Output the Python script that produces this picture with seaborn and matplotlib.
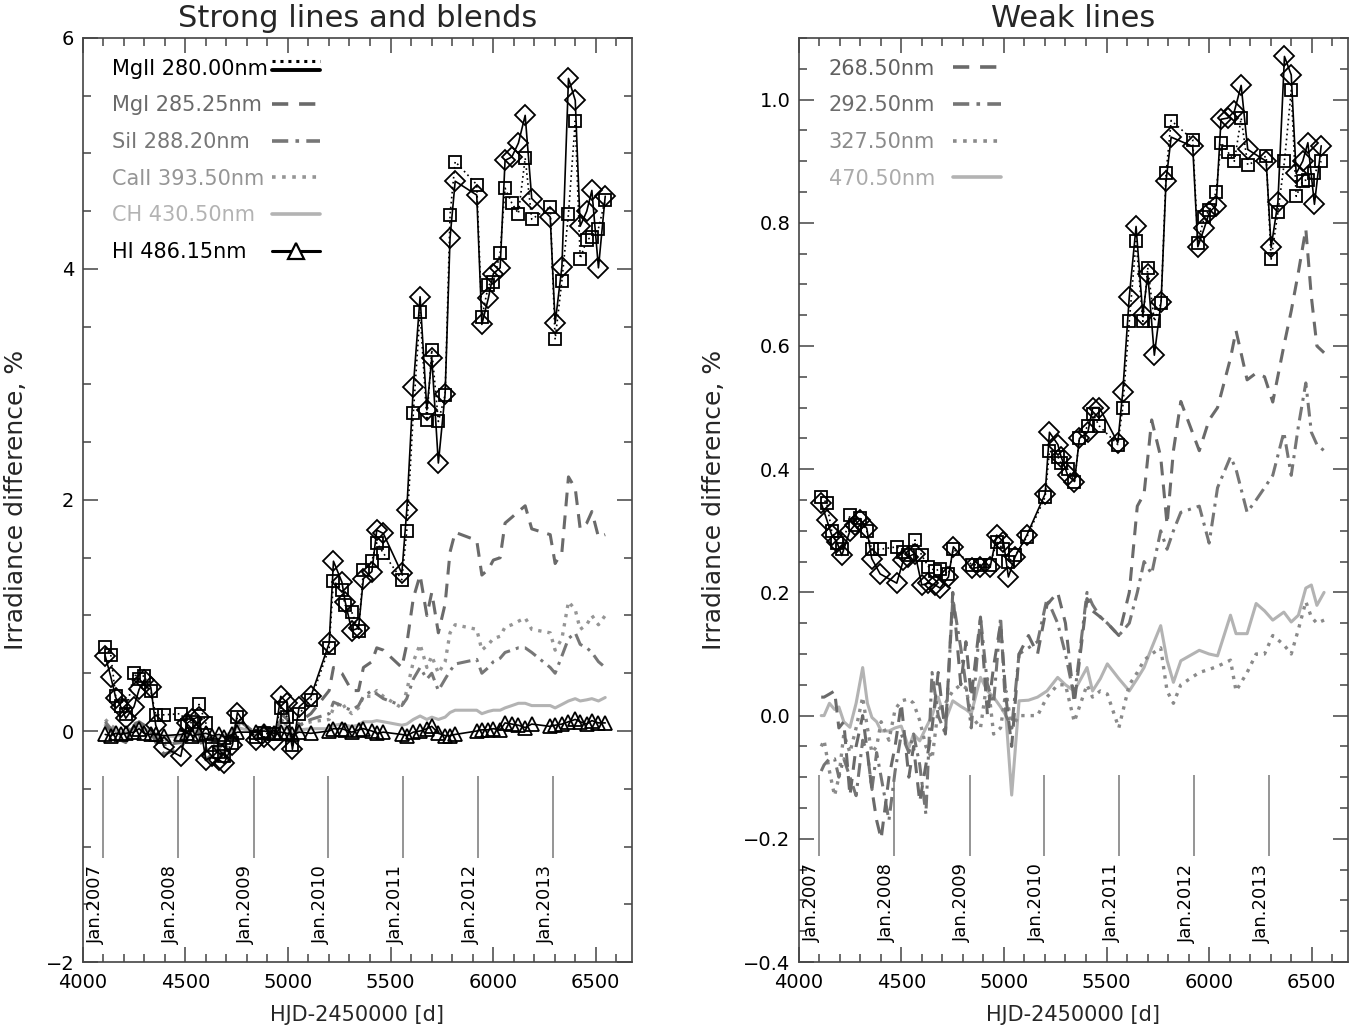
import numpy as np
import pandas as pd
import matplotlib
matplotlib.use("Agg")
import matplotlib.pyplot as plt
import seaborn as sns
from matplotlib.lines import Line2D
from matplotlib.legend_handler import HandlerBase
from matplotlib.ticker import MultipleLocator

# ---------------- data ----------------
t_mg = [4110, 4137, 4161, 4186, 4210, 4250, 4275, 4299, 4332, 4356,
        4397, 4478, 4510, 4535, 4567, 4600, 4632, 4665, 4689, 4730,
        4754, 4844, 4884, 4933, 4965, 4998, 5022, 5055, 5112, 5201,
        5222, 5263, 5279, 5311, 5344, 5368, 5409, 5433, 5465, 5555,
        5579, 5611, 5644, 5677, 5701, 5733, 5766, 5790, 5815, 5920,
        5945, 5977, 6001, 6034, 6058, 6091, 6123, 6156, 6188, 6278,
        6302, 6335, 6367, 6400, 6424, 6456, 6481, 6513, 6546]

mg2_diam_L = [0.65, 0.47, 0.29, 0.21, 0.11, 0.21, 0.36, 0.44, 0.38, 0.05,
              -0.14, -0.22, 0.07, 0.10, 0.125, -0.25, -0.22, -0.25, -0.28, -0.12,
              0.16, -0.08, -0.05, -0.08, 0.30, 0.24, -0.16, 0.21, 0.30, 0.76,
              1.47, 1.29, 1.12, 0.87, 0.89, 1.32, 1.38, 1.74, 1.71, 1.365,
              1.91, 2.98, 3.76, 2.78, 3.23, 2.32, 2.92, 4.27, 4.76, 4.64,
              3.52, 3.75, 3.96, 4.01, 4.94, 4.97, 5.09, 5.33, 4.61, 4.45,
              3.53, 4.02, 5.65, 5.46, 4.37, 4.50, 4.68, 4.01, 4.63]
mg2_sq_L = [0.73, 0.66, 0.30, 0.22, 0.15, 0.50, 0.45, 0.48, 0.35, 0.14,
            0.14, 0.15, 0.05, 0.08, 0.23, 0.07, -0.12, -0.18, -0.22, -0.10,
            0.12, -0.05, -0.02, -0.03, 0.20, 0.12, -0.12, 0.15, 0.27, 0.72,
            1.30, 1.22, 1.09, 1.03, 0.87, 1.39, 1.47, 1.63, 1.54, 1.31,
            1.73, 2.75, 3.63, 2.69, 3.30, 2.68, 2.91, 4.47, 4.93, 4.73,
            3.58, 3.86, 3.89, 4.14, 4.70, 4.57, 4.48, 4.96, 4.43, 4.54,
            3.39, 3.90, 4.48, 5.28, 4.09, 4.25, 4.28, 4.35, 4.60]
mg1_L = [0.05, 0.0, -0.05, -0.08, -0.1, 0.05, 0.08, 0.05, 0.0, -0.1,
         -0.2, -0.15, -0.05, 0.0, -0.02, -0.25, -0.2, -0.22, -0.18, -0.05,
         0.1, -0.02, 0.05, -0.05, 0.15, 0.1, -0.12, 0.08, 0.15, 0.35,
         0.55, 0.50, 0.45, 0.35, 0.35, 0.55, 0.60, 0.72, 0.70, 0.55,
         0.75, 1.15, 1.35, 1.0, 1.2, 0.85, 1.1, 1.55, 1.72, 1.65,
         1.35, 1.40, 1.48, 1.50, 1.80, 1.85, 1.90, 1.95, 1.75, 1.70,
         1.45, 1.55, 2.20, 2.10, 1.75, 1.80, 1.90, 1.68, 1.70]
si1_L = [0.08, 0.02, -0.02, -0.05, -0.05, 0.04, 0.06, 0.03, 0.0, -0.06,
         -0.12, -0.1, -0.03, 0.0, 0.0, -0.15, -0.12, -0.15, -0.1, -0.02,
         0.08, 0.0, 0.04, -0.02, 0.1, 0.06, -0.06, 0.05, 0.1, 0.15,
         0.25, 0.22, 0.2, 0.18, 0.22, 0.3, 0.35, 0.32, 0.28, 0.22,
         0.28, 0.45, 0.55, 0.45, 0.5, 0.35, 0.45, 0.52, 0.58, 0.62,
         0.5, 0.55, 0.6, 0.63, 0.68, 0.7, 0.72, 0.72, 0.68, 0.55,
         0.5, 0.65, 0.8, 0.85, 0.75, 0.72, 0.68, 0.6, 0.55]
ca2_L = [0.1, 0.05, 0.02, -0.02, 0.0, 0.06, 0.08, 0.05, 0.02, -0.03,
         -0.08, -0.06, -0.02, 0.02, 0.02, -0.1, -0.08, -0.1, -0.06, 0.0,
         0.06, 0.0, 0.03, -0.01, 0.08, 0.05, -0.04, 0.05, 0.08, 0.1,
         0.2, 0.25, 0.2, 0.15, 0.2, 0.3, 0.3, 0.35, 0.3, 0.2,
         0.35, 0.6, 0.75, 0.55, 0.65, 0.5, 0.6, 0.85, 0.92, 0.88,
         0.7, 0.75, 0.8, 0.82, 0.9, 0.92, 0.95, 0.98, 0.88, 0.85,
         0.7, 0.8, 1.12, 1.05, 0.88, 0.92, 1.0, 0.92, 1.0]
ch_L = [0.05, 0.02, 0.0, -0.02, -0.01, 0.02, 0.03, 0.02, 0.0, -0.02,
        -0.05, -0.04, -0.02, 0.0, 0.0, -0.06, -0.05, -0.06, -0.04, -0.01,
        0.03, -0.01, 0.01, -0.01, 0.03, 0.02, -0.03, 0.01, 0.02, 0.02,
        0.05, 0.06, 0.05, 0.04, 0.05, 0.08, 0.08, 0.09, 0.08, 0.05,
        0.06, 0.1, 0.13, 0.1, 0.12, 0.1, 0.12, 0.16, 0.18, 0.18,
        0.15, 0.17, 0.18, 0.18, 0.2, 0.22, 0.24, 0.24, 0.22, 0.22,
        0.2, 0.23, 0.26, 0.28, 0.26, 0.27, 0.28, 0.26, 0.29]
hi_L = [-0.03, -0.04, -0.02, -0.03, -0.02, -0.01, 0.02, -0.02, -0.03, -0.03,
        -0.04, -0.03, -0.02, -0.04, -0.03, -0.02, -0.04, -0.03, -0.05, -0.03,
        -0.01, -0.01, 0.0, -0.02, -0.01, -0.02, -0.03, -0.01, -0.02, 0.0,
        0.02, 0.02, 0.01, -0.01, 0.01, 0.02, 0.0, -0.02, -0.01, -0.03,
        -0.04, -0.01, 0.0, 0.02, 0.04, -0.02, -0.04, -0.04, -0.03, 0.0,
        0.01, 0.01, 0.02, 0.01, 0.07, 0.06, 0.05, 0.03, 0.06, 0.04,
        0.05, 0.06, 0.08, 0.1, 0.08, 0.06, 0.09, 0.07, 0.07]

mg2_diam_R = [0.345, 0.318, 0.293, 0.282, 0.26, 0.30, 0.31, 0.318, 0.304, 0.255,
              0.23, 0.215, 0.252, 0.258, 0.263, 0.212, 0.215, 0.212, 0.207, 0.225,
              0.274, 0.239, 0.241, 0.241, 0.293, 0.282, 0.225, 0.258, 0.293, 0.36,
              0.46, 0.44, 0.42, 0.39, 0.38, 0.45, 0.46, 0.50, 0.50, 0.443,
              0.525, 0.68, 0.794, 0.65, 0.717, 0.585, 0.672, 0.868, 0.939, 0.924,
              0.761, 0.792, 0.817, 0.828, 0.968, 0.97, 0.981, 1.023, 0.919, 0.90,
              0.76, 0.833, 1.07, 1.04, 0.88, 0.90, 0.93, 0.83, 0.925]
mg2_sq_R = [0.355, 0.345, 0.30, 0.28, 0.27, 0.325, 0.31, 0.32, 0.30, 0.27,
            0.27, 0.274, 0.265, 0.26, 0.285, 0.26, 0.242, 0.235, 0.238, 0.23,
            0.27, 0.245, 0.245, 0.245, 0.282, 0.27, 0.25, 0.26, 0.29, 0.355,
            0.43, 0.42, 0.41, 0.40, 0.38, 0.45, 0.47, 0.49, 0.47, 0.44,
            0.50, 0.64, 0.77, 0.64, 0.727, 0.64, 0.67, 0.88, 0.966, 0.935,
            0.767, 0.81, 0.82, 0.85, 0.93, 0.915, 0.90, 0.97, 0.894, 0.908,
            0.741, 0.817, 0.90, 1.015, 0.843, 0.868, 0.87, 0.88, 0.90]

t_w = [4110, 4124, 4150, 4175, 4196, 4220, 4250, 4280, 4312, 4335,
       4357, 4380, 4402, 4440, 4470, 4500, 4537, 4560, 4590, 4620,
       4650, 4680, 4715, 4751, 4790, 4815, 4841, 4886, 4920, 4950,
       4984, 5010, 5038, 5074, 5120, 5164, 5210, 5262, 5300, 5343,
       5405, 5432, 5470, 5504, 5560, 5611, 5650, 5683, 5720, 5764,
       5795, 5826, 5862, 5952, 6000, 6041, 6104, 6131, 6185, 6229,
       6270, 6310, 6364, 6400, 6435, 6471, 6498, 6525, 6560]
w268 = [0.03, 0.03, 0.035, 0.04, -0.02, -0.01, -0.13, -0.05, 0.0, -0.06,
        -0.12, -0.17, -0.2, -0.1, -0.05, 0.02, -0.1, -0.05, -0.14, -0.08,
        -0.02, 0.07, -0.03, 0.2, 0.05, 0.12, 0.03, 0.16, 0.0, 0.08,
        0.15, 0.03, -0.05, 0.1, 0.13, 0.1, 0.18, 0.2, 0.15, 0.02,
        0.19, 0.17, 0.16, 0.15, 0.13, 0.2, 0.34, 0.36, 0.48, 0.42,
        0.31, 0.43, 0.51, 0.43, 0.48, 0.5, 0.58, 0.625, 0.545, 0.556,
        0.55, 0.509, 0.6, 0.657, 0.72, 0.79, 0.68, 0.60, 0.589]
w292 = [-0.09, -0.08, -0.07, -0.07, -0.1, -0.07, -0.1, -0.13, -0.04, -0.06,
        -0.12, -0.06, -0.1, -0.17, -0.09, -0.03, -0.06, -0.03, -0.08, -0.16,
        0.07, 0.0, -0.03, 0.19, 0.11, 0.05, -0.02, 0.16, 0.05, 0.02,
        0.16, 0.0, -0.02, 0.1, 0.11, 0.12, 0.19, 0.15, 0.1, 0.03,
        0.2, 0.18, 0.16, 0.15, 0.13, 0.15, 0.2, 0.25, 0.23, 0.3,
        0.27, 0.3, 0.33, 0.34, 0.28, 0.37, 0.42, 0.4, 0.33, 0.35,
        0.37, 0.39, 0.46, 0.39, 0.47, 0.54, 0.46, 0.44, 0.43]
w327 = [-0.05, -0.04, -0.09, -0.13, -0.1, -0.03, -0.06, -0.02, 0.03, -0.02,
        -0.06, -0.05, -0.01, -0.04, 0.01, 0.024, 0.027, 0.02, -0.008, -0.05,
        -0.07, 0.01, 0.02, 0.04, 0.05, 0.045, 0.0, -0.02, 0.06, -0.03,
        -0.02, 0.04, -0.02, 0.0, 0.0, 0.0, 0.03, 0.05, 0.05, -0.01,
        0.05, 0.03, 0.04, 0.035, -0.02, 0.05, 0.07, 0.09, 0.1, 0.11,
        0.04, 0.02, 0.05, 0.07, 0.075, 0.08, 0.09, 0.04, 0.07, 0.1,
        0.1, 0.13, 0.115, 0.1, 0.14, 0.185, 0.16, 0.15, 0.155]
w470 = [0.0, 0.0, 0.02, 0.01, 0.014, -0.01, -0.019, 0.02, 0.078, 0.02,
        -0.003, -0.01, -0.025, -0.025, -0.02, -0.017, -0.052, -0.03, -0.041, -0.02,
        0.0, 0.03, -0.008, 0.024, 0.015, 0.01, 0.003, 0.062, 0.04, 0.03,
        0.014, 0.0, -0.129, 0.024, 0.025, 0.03, 0.04, 0.062, 0.05, 0.04,
        0.078, 0.04, 0.06, 0.084, 0.06, 0.04, 0.06, 0.078, 0.11, 0.146,
        0.09, 0.054, 0.089, 0.106, 0.1, 0.097, 0.163, 0.133, 0.133, 0.182,
        0.17, 0.155, 0.168, 0.152, 0.163, 0.207, 0.212, 0.179, 0.2]

jan_hjd = [4101.5, 4466.5, 4832.5, 5197.5, 5562.5, 5927.5, 6293.5]
jan_labels = ["Jan.2007", "Jan.2008", "Jan.2009", "Jan.2010",
              "Jan.2011", "Jan.2012", "Jan.2013"]

left_labels = ["MgII 280.00nm", "MgI 285.25nm", "SiI 288.20nm",
               "CaII 393.50nm", "CH 430.50nm", "HI 486.15nm"]
right_labels = ["268.50nm", "292.50nm", "327.50nm", "470.50nm"]

# ---------------- style ----------------
sns.set_style("ticks")
plt.rcParams["font.family"] = ["DejaVu Sans"]
plt.rcParams["axes.unicode_minus"] = True

C_MG1, C_SI1, C_CA2, C_CH = "#6a6a6a", "#777777", "#959595", "#b3b3b3"
C_268, C_292, C_327, C_470 = "#6a6a6a", "#757575", "#8a8a8a", "#b3b3b3"
DASH = (0, (4.5, 3))
DASHDOT = (0, (4.5, 2, 1, 2))
DOT = (0, (1, 1.8))
SPINE = "#444444"

fig = plt.figure(figsize=(13.55, 10.29), dpi=100)
axL = fig.add_axes([0.061, 0.0651, 0.4055, 0.898])
axR = fig.add_axes([0.5894, 0.0651, 0.4055, 0.898])


def draw(ax, x, y, color, ls, lw, z, **kw):
    sns.lineplot(x=x, y=y, ax=ax, color=color, linestyle=ls, linewidth=lw,
                 zorder=z, sort=False, estimator=None, legend=False, **kw)


mk_d = dict(marker="D", markersize=10, markerfacecolor="none",
            markeredgecolor="black", markeredgewidth=1.3)
mk_s = dict(marker="s", markersize=8.5, markerfacecolor="none",
            markeredgecolor="black", markeredgewidth=1.3)
mk_t = dict(marker="^", markersize=10, markerfacecolor="none",
            markeredgecolor="black", markeredgewidth=1.3)

# left panel
draw(axL, t_mg, ch_L, C_CH, "-", 2.2, 2)
draw(axL, t_mg, ca2_L, C_CA2, DOT, 2.4, 2)
draw(axL, t_mg, si1_L, C_SI1, DASHDOT, 2.2, 2)
draw(axL, t_mg, mg1_L, C_MG1, DASH, 2.2, 2)
draw(axL, t_mg, mg2_sq_L, "black", (0, (1, 2)), 1.2, 4, **mk_s)
draw(axL, t_mg, mg2_diam_L, "black", "-", 1.2, 5, **mk_d)
draw(axL, t_mg, hi_L, "black", "-", 1.2, 5, **mk_t)

# right panel
draw(axR, t_w, w470, C_470, "-", 2.2, 2)
draw(axR, t_w, w327, C_327, DOT, 2.4, 2)
draw(axR, t_w, w292, C_292, DASHDOT, 2.2, 2)
draw(axR, t_w, w268, C_268, DASH, 2.2, 2)
draw(axR, t_mg, mg2_sq_R, "black", (0, (1, 2)), 1.2, 4, **mk_s)
draw(axR, t_mg, mg2_diam_R, "black", "-", 1.2, 5, **mk_d)


# ---------------- axes ----------------
def style_axes(ax, ylim, ymaj, ymin, title, ylab, ylab_x, yr_line, yr_text):
    ax.set_xlim(4000, 6677)
    ax.set_ylim(*ylim)
    ax.xaxis.set_major_locator(MultipleLocator(500))
    ax.xaxis.set_minor_locator(MultipleLocator(100))
    ax.yaxis.set_major_locator(MultipleLocator(ymaj))
    ax.yaxis.set_minor_locator(MultipleLocator(ymin))
    ax.tick_params(which="both", direction="in", top=True, right=True,
                   color=SPINE, labelsize=14, labelcolor="black")
    ax.tick_params(which="major", length=11, width=1.1)
    ax.tick_params(which="minor", length=5.5, width=1.1)
    ax.tick_params(axis="x", pad=8)
    ax.tick_params(axis="y", pad=6)
    for s in ax.spines.values():
        s.set_color(SPINE)
        s.set_linewidth(1.2)
    ax.set_title(title, fontsize=22, pad=8)
    ax.set_xlabel("HJD-2450000 [d]", fontsize=15)
    ax.xaxis.set_label_coords(0.5, -0.046)
    ax.set_ylabel(ylab, fontsize=18)
    ax.yaxis.set_label_coords(ylab_x, 0.5)
    ax.vlines(jan_hjd, yr_line[0], yr_line[1], color="#8c8c8c", lw=1.3, zorder=1)
    for xj, lab in zip(jan_hjd, jan_labels):
        ax.text(xj + 8, yr_text, lab, rotation=90, ha="right", va="top",
                fontsize=13, color="black")


style_axes(axL, (-2, 6), 2, 0.5, "Strong lines and blends",
           "Irradiance difference, %", -0.1, (-0.39, -1.10), -1.16)
style_axes(axR, (-0.4, 1.1), 0.2, 0.05, "Weak lines",
           "Irradiance difference, %", -0.132, (-0.097, -0.228), -0.24)


# ---------------- legends ----------------
class HandlerStack(HandlerBase):
    def create_artists(self, legend, orig_handle, xdescent, ydescent,
                       width, height, fontsize, trans):
        top, bot = orig_handle
        arts = []
        for h, frac in ((top, 0.95), (bot, 0.3)):
            y = height * frac - ydescent
            ln = Line2D([-xdescent, width - xdescent], [y, y])
            ln.update_from(h)
            ln.set_transform(trans)
            arts.append(ln)
        return arts


def two_part_legend(ax, handles, labels, colors, text_x, handle_x):
    common = dict(loc="upper left", frameon=False, fontsize=15,
                  labelspacing=0.8, borderpad=0.2, borderaxespad=0.0,
                  handler_map={tuple: HandlerStack()})
    # column of line samples (empty labels keep the same row heights)
    legA = ax.legend(handles, [""] * len(handles), markerfirst=True,
                     handlelength=2.3, handletextpad=0.0,
                     bbox_to_anchor=(handle_x, 0.982), **common)
    ax.add_artist(legA)
    # left-aligned coloured texts
    blank = [Line2D([], [], color="none") for _ in labels]
    legB = ax.legend(blank, labels, markerfirst=True, handlelength=0,
                     handletextpad=0, bbox_to_anchor=(text_x, 0.982), **common)
    for txt, c in zip(legB.get_texts(), colors):
        txt.set_color(c)


h_mg2 = (Line2D([], [], color="black", ls=(0, (1, 1.6)), lw=2.2),
         Line2D([], [], color="black", ls="-", lw=2.8))
hL = [h_mg2,
      Line2D([], [], color=C_MG1, ls=DASH, lw=2.6),
      Line2D([], [], color=C_SI1, ls=DASHDOT, lw=2.6),
      Line2D([], [], color=C_CA2, ls=DOT, lw=2.6),
      Line2D([], [], color=C_CH, ls="-", lw=2.6),
      Line2D([], [], color="black", ls="-", lw=2.2, marker="^",
             markersize=12, markerfacecolor="white",
             markeredgecolor="black", markeredgewidth=1.6)]
two_part_legend(axL, hL, left_labels,
                ["black", C_MG1, C_SI1, C_CA2, C_CH, "black"],
                0.045, 0.3375)

hR = [Line2D([], [], color=C_268, ls=DASH, lw=2.6),
      Line2D([], [], color=C_292, ls=DASHDOT, lw=2.6),
      Line2D([], [], color=C_327, ls=DOT, lw=2.6),
      Line2D([], [], color=C_470, ls="-", lw=2.6)]
two_part_legend(axR, hR, right_labels,
                ["#606060", "#6c6c6c", "#8a8a8a", "#ababab"],
                0.047, 0.274)

fig.savefig("out.png", dpi=100)
